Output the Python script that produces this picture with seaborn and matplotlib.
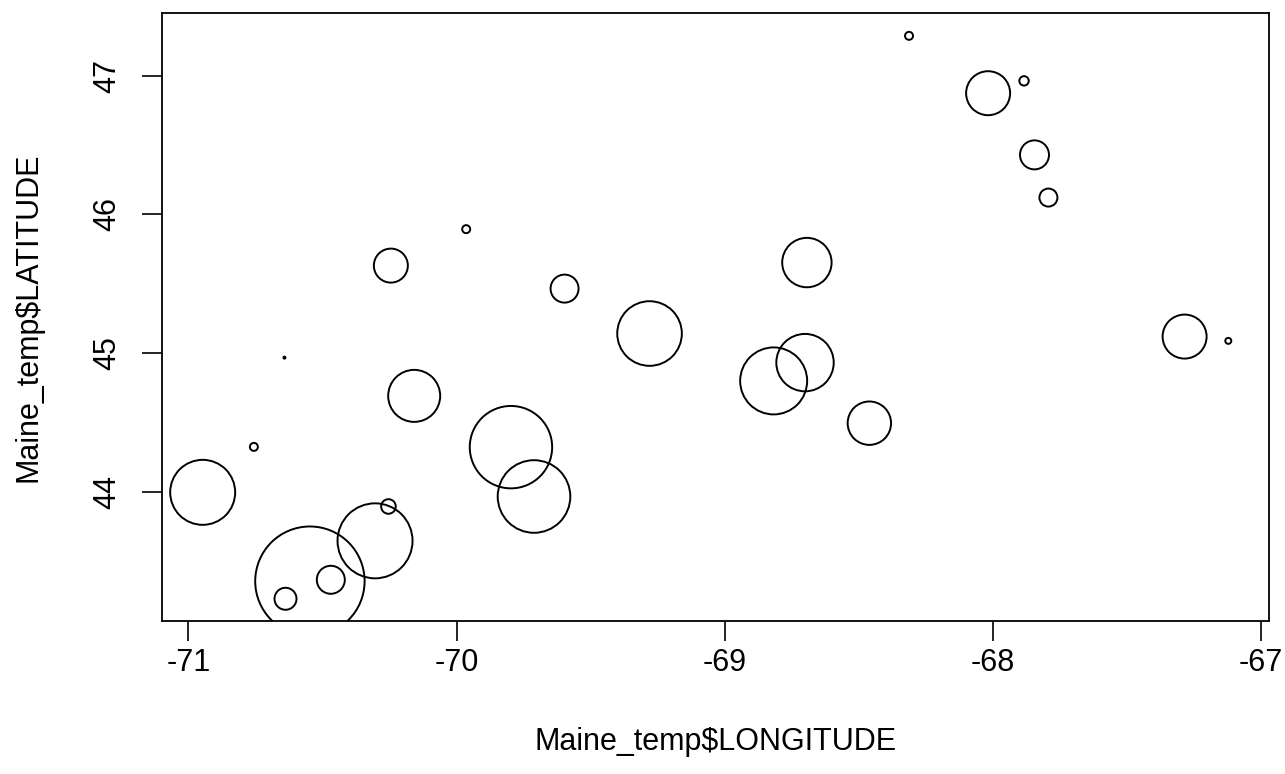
import pandas as pd
import seaborn as sns
import matplotlib.pyplot as plt

sns.set_style("white")
plt.rcParams['font.family'] = ['Liberation Sans', 'DejaVu Sans']
plt.rcParams['axes.unicode_minus'] = False
plt.rcParams['text.color'] = 'black'
plt.rcParams['axes.labelcolor'] = 'black'
plt.rcParams['xtick.color'] = 'black'
plt.rcParams['ytick.color'] = 'black'

# %% Data (station positions and relative circle radii)

longitude = [-70.947, -70.756, -70.638, -70.469, -70.547, -70.304, -70.254, -70.158,
             -70.245, -69.964, -70.642, -69.597, -69.280, -69.797, -69.711, -68.817,
             -68.700, -68.693, -68.460, -68.312, -68.017, -67.883, -67.844, -67.792,
             -67.284, -67.121]
latitude = [43.995, 44.323, 43.227, 43.364, 43.354, 43.645, 43.893, 44.691,
            45.631, 45.894, 44.967, 45.465, 45.141, 44.321, 43.965, 44.799,
            44.931, 45.653, 44.494, 47.289, 46.875, 46.964, 46.430, 46.122,
            45.119, 45.088]
circle_r = [32.5, 4.0, 11.0, 14.0, 54.7, 37.5, 7.3, 26.0,
            17.0, 4.0, 1.0, 14.0, 32.3, 41.2, 36.3, 33.5,
            28.7, 24.7, 21.7, 4.0, 22.0, 4.7, 14.5, 9.0,
            22.0, 3.0]

df = pd.DataFrame({'LONGITUDE': longitude, 'LATITUDE': latitude, 'r': circle_r})
df['area'] = df.r ** 2

# radius (px at 100 dpi) -> marker diameter in points
k = 2 * 72 / 100
smin = (k * df.r.min()) ** 2
smax = (k * df.r.max()) ** 2

# %% Plot

fig, ax = plt.subplots(figsize=(12.85, 7.74), dpi=100)
fig.subplots_adjust(left=0.1258, right=0.9878, top=0.9828, bottom=0.1973)

sns.scatterplot(
    data=df,
    x='LONGITUDE',
    y='LATITUDE',
    size='area',
    sizes=(smin, smax),
    facecolors='none',
    edgecolors='black',
    linewidths=1.4,
    legend=False,
    ax=ax,
)

# R-style 4% padding around the data range
xr = df.LONGITUDE.max() - df.LONGITUDE.min()
yr = df.LATITUDE.max() - df.LATITUDE.min()
ax.set_xlim(df.LONGITUDE.min() - 0.04 * xr, df.LONGITUDE.max() + 0.04 * xr)
ax.set_ylim(df.LATITUDE.min() - 0.04 * yr, df.LATITUDE.max() + 0.04 * yr)

ax.set_xticks([-71, -70, -69, -68, -67])
ax.set_yticks([44, 45, 46, 47])
ax.tick_params(axis='both', direction='out', length=14.4, width=1.2,
               labelsize=22, bottom=True, left=True)
ax.tick_params(axis='x', pad=5)
ax.tick_params(axis='y', pad=14)
for lab in ax.get_yticklabels():
    lab.set_rotation(90)
    lab.set_va('center')

for sp in ax.spines.values():
    sp.set_color('black')
    sp.set_linewidth(1.3)

ax.set_xlabel('Maine_temp$LONGITUDE', fontsize=22)
ax.set_ylabel('Maine_temp$LATITUDE', fontsize=22)
ax.xaxis.set_label_coords(0.5, -0.1985)
ax.yaxis.set_label_coords(-0.1198, 0.5)
ax.xaxis.label.set_va('center')
ax.yaxis.label.set_va('center')

plt.savefig('out.png', dpi=100)
